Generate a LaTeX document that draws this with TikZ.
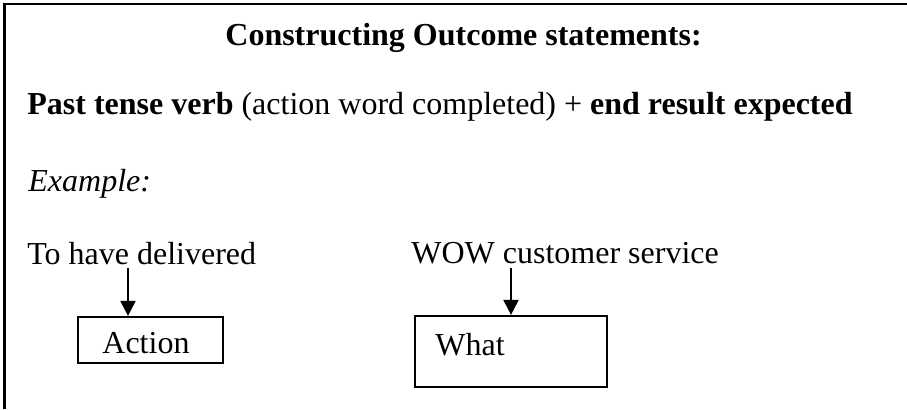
\documentclass[tikz,border=0pt]{standalone}
\usepackage{fontspec}
\setmainfont{Liberation Serif}
\usetikzlibrary{arrows.meta}
\tikzset{
  txt/.style={anchor=base west, inner sep=0pt, font=\fontsize{16}{19}\selectfont},
  boxnode/.style={draw, line width=1.1pt, rectangle, inner sep=0pt},
  arr/.style={line width=1pt, -{Triangle[length=7.5pt,width=7.5pt]}},
  frame/.style={line width=1.4pt}
}
\begin{document}
\begin{tikzpicture}[x=0.5pt,y=-0.5pt]
\useasboundingbox (0,0) rectangle (907,409);
% outer frame (cropped at right and bottom)
\coordinate (fbl) at (4.5,409);
\coordinate (ftl) at (4.5,4);
\coordinate (ftr) at (907,4);
\draw[frame] (fbl) -- (ftl) -- (ftr);
% texts
\node[txt] (title) at (225,45) {\textbf{Constructing Outcome statements:}};
\node[txt] (formula) at (27,114) {\textbf{Past tense verb} (action word completed) + \textbf{end result expected}};
\node[txt] (example) at (28,191) {\textit{Example:}};
\node[txt] (deliv) at (27,264) {To have delivered};
\node[txt] (wow) at (411,263) {WOW customer service};
% boxes
\node[boxnode, minimum width=72.5pt, minimum height=23pt] (act) at (150.5,340) {};
\node[txt] (acttxt) at (102,353) {Action};
\node[boxnode, minimum width=96pt, minimum height=35.5pt] (what) at (511,351.5) {};
\node[txt] (whattxt) at (435,355) {What};
% arrows
\coordinate (a1) at (128,268);
\coordinate (a2) at (511,268);
\draw[arr] (a1) -- (a1 |- act.north);
\draw[arr] (a2) -- (what.north);
\end{tikzpicture}
\end{document}
